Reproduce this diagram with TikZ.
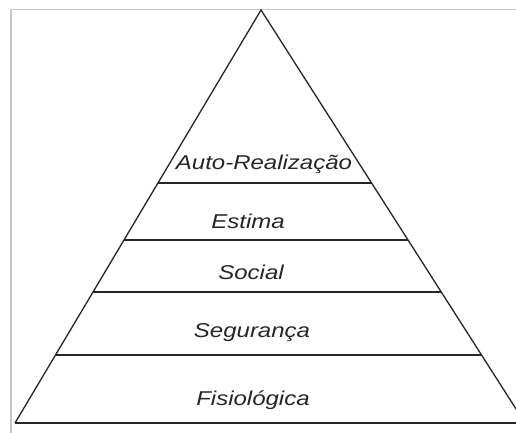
\documentclass[tikz,border=0pt]{standalone}
\usepackage{fontspec}
\setmainfont{Liberation Sans}
\usetikzlibrary{calc}
\begin{document}
\begin{tikzpicture}[x=1pt,y=-1pt,
  frame/.style={draw=black!22,line width=1.6pt},
  edge/.style={draw=black!85,line width=1.3pt},
  level/.style={anchor=base,inner sep=0pt,xscale=1.2,
    font=\fontsize{20}{20}\selectfont\itshape,text=black!85}]
\useasboundingbox (0,0) rectangle (516,433);
\begin{scope}
\clip (0,0) rectangle (516,433);
\fill[white] (0,0) rectangle (516,433);
\coordinate (fTL) at (11,9.5);
\coordinate (fTR) at (520,9.5);
\coordinate (fBL) at (11,440);
\draw[frame] (fBL) -- (fTL) -- (fTR);
\coordinate (A) at (261,10);
\coordinate (BL) at (15,423);
\coordinate (BR) at (525,423);
\draw[edge,line join=miter] (BL) -- (A) -- (BR);
\draw[edge] (BL) -- (BR);
\foreach \t/\n in {0.419/1,0.557/2,0.683/3,0.835/4}{
  \coordinate (L\n) at ($(A)!\t!(BL)$);
  \coordinate (R\n) at ($(A)!\t!(BR)$);
  \draw[edge] (L\n) -- (R\n);
}
\end{scope}
\node[level] (auto) at (264,169) {Auto-Realização};
\node[level] (estima) at (248,228) {Estima};
\node[level] (social) at (251,279) {Social};
\node[level] (seg) at (252,337) {Segurança};
\node[level] (fis) at (253,405) {Fisiológica};
\end{tikzpicture}
\end{document}
